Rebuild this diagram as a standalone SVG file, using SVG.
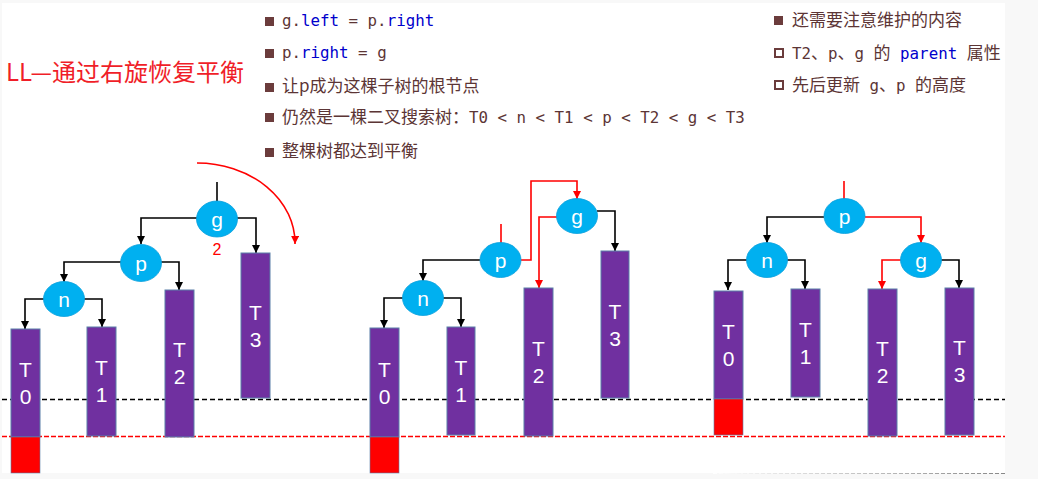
<svg xmlns="http://www.w3.org/2000/svg" width="1038" height="479" viewBox="0 0 1038 479">
<style>
.cn{font-family:"Noto Sans CJK SC","Noto Sans",sans-serif;font-size:17px;fill:#5c3535}
.mono{font-family:"DejaVu Sans Mono","Liberation Mono",monospace;font-size:15.8px;fill:#5c3535}
.kw{fill:#0000cc}
.bul{fill:#6b3c3c}
.hbul{fill:none;stroke:#6b3c3c;stroke-width:2}
.node ellipse{fill:#00b0f0;stroke:#0aa0dc;stroke-width:0.8}
.node text{font-family:"Liberation Sans","Open Sans",sans-serif;font-size:24px;fill:#fff;text-anchor:middle}
.tree rect.t{fill:#7030a0;stroke:#5b7fa8;stroke-width:1}
.tree rect.h{fill:#ff0000;stroke:#5b7fa8;stroke-width:0.6}
.tree text{font-family:"Liberation Sans","Open Sans",sans-serif;font-size:21px;fill:#fff;text-anchor:middle}
.cb{fill:none;stroke:#000;stroke-width:1.6;marker-end:url(#ab)}
.cr{fill:none;stroke:#ff0000;stroke-width:1.6;marker-end:url(#ar)}
.lb{fill:none;stroke:#000;stroke-width:1.6}
.lr{fill:none;stroke:#ff0000;stroke-width:1.6}
</style>
<defs>
<marker id="ab" viewBox="0 0 8 8" refX="8" refY="4" markerWidth="8" markerHeight="8" markerUnits="userSpaceOnUse" orient="auto"><path d="M0,0 L8,4 L0,8 z" fill="#000"/></marker>
<marker id="ar" viewBox="0 0 8 8" refX="8" refY="4" markerWidth="8" markerHeight="8" markerUnits="userSpaceOnUse" orient="auto"><path d="M0,0 L8,4 L0,8 z" fill="#ff0000"/></marker>
<linearGradient id="fade" x1="713" y1="0" x2="1005" y2="0" gradientUnits="userSpaceOnUse"><stop offset="0" stop-color="#ffffff"/><stop offset="1" stop-color="#888888"/></linearGradient>
</defs>
<rect x="0" y="0" width="1038" height="479" fill="#f8f8f8"/>
<rect x="2" y="3" width="1003" height="470" fill="#ffffff"/>
<line x1="713" y1="473.5" x2="1005" y2="473.5" stroke="url(#fade)" stroke-width="1.2" stroke-dasharray="4,2"/>

<g id="title"><text x="6" y="81" style="font-family:'Noto Sans CJK SC','Noto Sans',sans-serif;font-size:24px;fill:#f01e28">LL—通过右旋恢复平衡</text></g>

<g id="notes-left">
<rect class="bul" x="265" y="17" width="9" height="9"/>
<text x="282" y="26" class="mono">g.<tspan class="kw">left</tspan> = p.<tspan class="kw">right</tspan></text>
<rect class="bul" x="265" y="49" width="9" height="9"/>
<text x="282" y="58" class="mono">p.<tspan class="kw">right</tspan> = g</text>
<rect class="bul" x="265" y="83" width="9" height="9"/>
<text x="282" y="92" class="cn">让p成为这棵子树的根节点</text>
<rect class="bul" x="265" y="113" width="9" height="9"/>
<text x="282" y="123" class="cn">仍然是一棵二叉搜索树：<tspan class="mono">T0 &lt; n &lt; T1 &lt; p &lt; T2 &lt; g &lt; T3</tspan></text>
<rect class="bul" x="265" y="148" width="9" height="9"/>
<text x="282" y="157" class="cn">整棵树都达到平衡</text>
</g>

<g id="notes-right">
<rect class="bul" x="774" y="16" width="9" height="9"/>
<text x="792" y="26" class="cn">还需要注意维护的内容</text>
<rect class="hbul" x="775" y="49" width="8" height="8"/>
<text x="792" y="59" class="cn"><tspan class="mono">T2</tspan>、<tspan class="mono">p</tspan>、<tspan class="mono">g </tspan>的<tspan class="mono"> <tspan class="kw">parent</tspan> </tspan>属性</text>
<rect class="hbul" x="775" y="81" width="8" height="8"/>
<text x="792" y="91" class="cn">先后更新<tspan class="mono"> g</tspan>、<tspan class="mono">p </tspan>的高度</text>
</g>

<g id="levels">
<line x1="2" y1="399.5" x2="1005" y2="399.5" stroke="#000" stroke-width="1.3" stroke-dasharray="5,3"/>
<line x1="2" y1="436.5" x2="1005" y2="436.5" stroke="#ff0000" stroke-width="1.3" stroke-dasharray="5,2"/>
</g>

<g id="connectors">
<path class="lb" d="M217,182 V201"/>
<path class="cb" d="M197,218 H141 V244"/>
<path class="cb" d="M237,218 H256 V253"/>
<path class="cb" d="M121,262 H64 V282"/>
<path class="cb" d="M161,262 H179 V290"/>
<path class="cb" d="M44,299 H25 V329"/>
<path class="cb" d="M84,299 H102 V327"/>
<path class="cr" d="M197,163 A98,80 0 0 1 295,244"/>
<path class="lr" d="M501,224 V243"/>
<path class="cb" d="M480,260 H423 V281"/>
<path class="cr" d="M521,260 H531 V181 H577 V199"/>
<path class="cr" d="M557,217 H539 V288"/>
<path class="cb" d="M597,211 H615 V251"/>
<path class="cb" d="M403,298 H384 V328"/>
<path class="cb" d="M443,298 H461 V327"/>
<path class="lr" d="M844,181 V199"/>
<path class="cb" d="M824,217 H767 V243"/>
<path class="cr" d="M865,217 H921 V243"/>
<path class="cb" d="M747,260 H728 V290"/>
<path class="cb" d="M787,260 H805 V289"/>
<path class="cr" d="M901,260 H882 V289"/>
<path class="cb" d="M941,260 H959 V288"/>
</g>

<g id="tree1" class="tree">
<g id="t1-g" class="node"><ellipse cx="217" cy="219" rx="20.5" ry="18"/><text x="217" y="227">g</text></g>
<text x="217" y="255" style="fill:#ff0000;font-size:16px">2</text>
<g id="t1-p" class="node"><ellipse cx="141" cy="263" rx="20.5" ry="18.5"/><text x="141" y="271">p</text></g>
<g id="t1-n" class="node"><ellipse cx="64" cy="299" rx="20.5" ry="17.5"/><text x="64" y="307">n</text></g>
<g id="t1-T0"><rect class="t" x="11" y="329" width="29" height="108"/><rect class="h" x="11" y="437" width="29" height="36"/><text x="25.5" y="377">T</text><text x="25.5" y="404">0</text></g>
<g id="t1-T1"><rect class="t" x="87" y="327" width="29" height="109"/><text x="101.5" y="375">T</text><text x="101.5" y="402">1</text></g>
<g id="t1-T2"><rect class="t" x="165" y="290" width="29" height="147"/><text x="179.5" y="357">T</text><text x="179.5" y="384">2</text></g>
<g id="t1-T3"><rect class="t" x="241" y="253" width="29" height="145"/><text x="255.5" y="320">T</text><text x="255.5" y="347">3</text></g>
</g>

<g id="tree2" class="tree">
<g id="t2-p" class="node"><ellipse cx="500.5" cy="260" rx="20.5" ry="17.5"/><text x="500.5" y="268">p</text></g>
<g id="t2-g" class="node"><ellipse cx="577" cy="216" rx="20.5" ry="17.5"/><text x="577" y="224">g</text></g>
<g id="t2-n" class="node"><ellipse cx="423" cy="298" rx="20.5" ry="17.5"/><text x="423" y="306">n</text></g>
<g id="t2-T0"><rect class="t" x="370" y="328" width="29" height="109"/><rect class="h" x="370" y="437" width="29" height="36"/><text x="384.5" y="377">T</text><text x="384.5" y="404">0</text></g>
<g id="t2-T1"><rect class="t" x="447" y="327" width="28" height="108"/><text x="461" y="375">T</text><text x="461" y="402">1</text></g>
<g id="t2-T2"><rect class="t" x="524" y="288" width="29" height="148"/><text x="538.5" y="356">T</text><text x="538.5" y="383">2</text></g>
<g id="t2-T3"><rect class="t" x="601" y="251" width="28" height="147"/><text x="615" y="319">T</text><text x="615" y="346">3</text></g>
</g>

<g id="tree3" class="tree">
<g id="t3-p" class="node"><ellipse cx="844.5" cy="216" rx="20.5" ry="17.5"/><text x="844.5" y="224">p</text></g>
<g id="t3-n" class="node"><ellipse cx="767" cy="260" rx="20.5" ry="17.5"/><text x="767" y="268">n</text></g>
<g id="t3-g" class="node"><ellipse cx="921" cy="260" rx="20.5" ry="17.5"/><text x="921" y="268">g</text></g>
<g id="t3-T0"><rect class="t" x="714" y="291" width="29" height="108"/><rect class="h" x="714" y="399" width="29" height="36"/><text x="728.5" y="339">T</text><text x="728.5" y="366">0</text></g>
<g id="t3-T1"><rect class="t" x="791" y="289" width="29" height="108"/><text x="805.5" y="337">T</text><text x="805.5" y="364">1</text></g>
<g id="t3-T2"><rect class="t" x="868" y="289" width="29" height="147"/><text x="882.5" y="356">T</text><text x="882.5" y="383">2</text></g>
<g id="t3-T3"><rect class="t" x="945" y="288" width="29" height="147"/><text x="959.5" y="355">T</text><text x="959.5" y="382">3</text></g>
</g>
</svg>
